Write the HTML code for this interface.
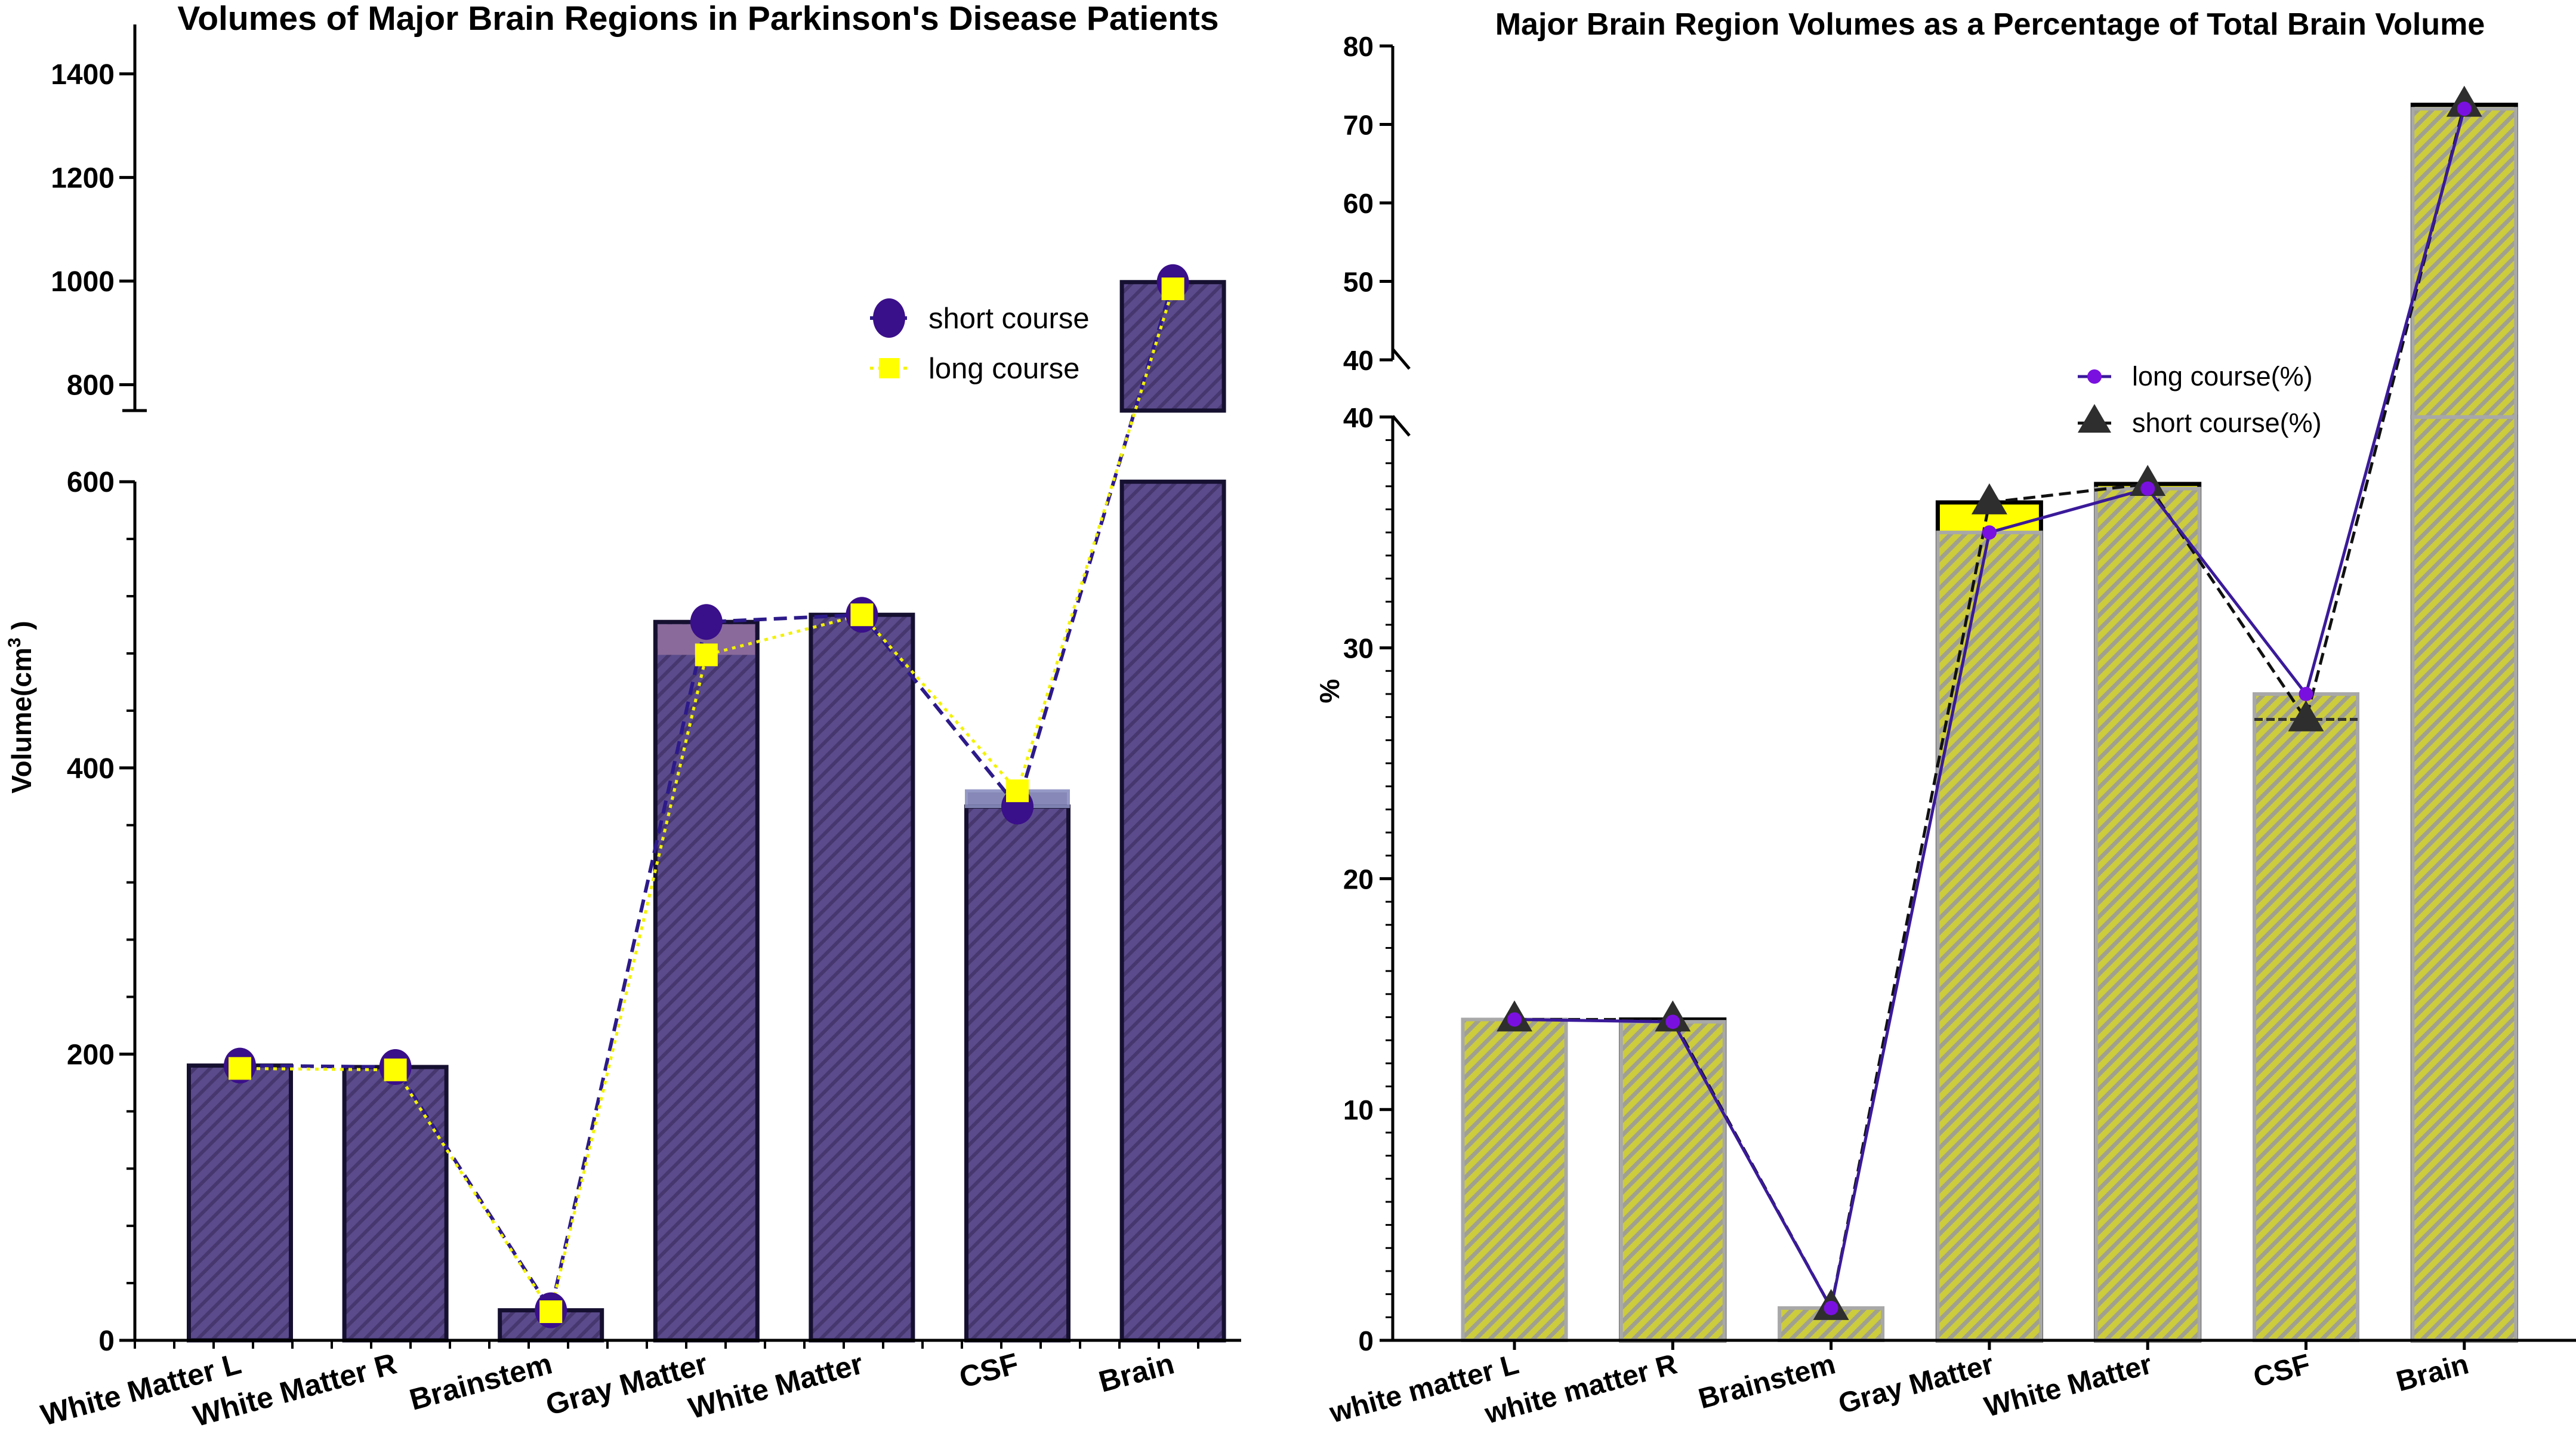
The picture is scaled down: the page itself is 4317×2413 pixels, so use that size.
<!DOCTYPE html>
<html><head><meta charset="utf-8"><style>
html,body{margin:0;padding:0;background:#fff}
svg{display:block;font-family:"Liberation Sans",Arial,sans-serif}
</style></head><body>
<svg id="chart" width="4317" height="2413" viewBox="0 0 4317 2413" xmlns="http://www.w3.org/2000/svg">
<defs>
<pattern id="hatchL" patternUnits="userSpaceOnUse" width="18" height="18" patternTransform="rotate(45)">
<rect width="18" height="18" fill="#5b4b8c"/><rect width="6" height="18" fill="#47376f"/>
</pattern>
<pattern id="hatchR" patternUnits="userSpaceOnUse" width="17" height="17" patternTransform="rotate(45)">
<rect width="17" height="17" fill="#cccc3c"/><rect width="7" height="17" fill="#a0a090"/>
</pattern>
</defs>
<g id="left"></g>
<g id="right"></g>
</svg>
<script>
const categoriesL = ["White Matter L","White Matter R","Brainstem","Gray Matter","White Matter","CSF","Brain"];
const shortCourseVol = [192, 191, 21, 502, 507, 373, 998];
const longCourseVol = [190, 189, 20, 479, 507, 384, 985];
const ticksLLow = [0, 200, 400, 600];
const ticksLHigh = [800, 1000, 1200, 1400];

const categoriesR = ["white matter L","white matter R","Brainstem","Gray Matter","White Matter","CSF","Brain"];
const longCoursePct = [13.9, 13.8, 1.4, 35.0, 36.9, 28.0, 72.0];
const shortCoursePct = [13.9, 13.9, 1.4, 36.3, 37.1, 26.9, 72.5];
const ticksRLow = [0, 10, 20, 30, 40];
const ticksRHigh = [40, 50, 60, 70, 80];

const NS = "http://www.w3.org/2000/svg";
function mk(parent, tag, attrs, text){
  const e = document.createElementNS(NS, tag);
  for (const k in attrs) e.setAttribute(k, attrs[k]);
  if (text !== undefined) e.textContent = text;
  parent.appendChild(e); return e;
}

// ---------- LEFT ----------
const L = document.getElementById('left');
const yL = v => v <= 600 ? 2246 - v * 2.398 : 688 - (v - 750) * 0.868;
const xL = i => 402 + i * 260.6;
const bwL = 171;
function barSeg(g, x, v, lowMax, highMin, y, fill, stroke, sw, name){
  const top = Math.min(v, lowMax);
  let r = mk(g, 'rect', {x: x - bwL/2, y: y(top), width: bwL, height: y(0) - y(top), fill: fill, stroke: stroke, 'stroke-width': sw});
  
  
  if (v > highMin) {
    let r2 = mk(g, 'rect', {x: x - bwL/2, y: y(v), width: bwL, height: y(highMin) - y(v), fill: fill, stroke: stroke, 'stroke-width': sw});
    
    
  }
}
categoriesL.forEach((c, i) => {
  barSeg(L, xL(i), shortCourseVol[i], 600, 750, yL, 'url(#hatchL)', '#161030', 7, 'bar-short-' + i);
  if (longCourseVol[i] > shortCourseVol[i]) {
    let r = mk(L, 'rect', {x: xL(i) - bwL/2, y: yL(longCourseVol[i]), width: bwL, height: yL(shortCourseVol[i]) - yL(longCourseVol[i]), fill: '#7b7cb0', stroke: '#8a8fc0', 'stroke-width': 5, opacity: 0.9});
    
    
  }
  if (longCourseVol[i] < shortCourseVol[i] && shortCourseVol[i] - longCourseVol[i] > 5 && shortCourseVol[i] <= 600) {
    let r = mk(L, 'rect', {x: xL(i) - bwL/2 + 4, y: yL(shortCourseVol[i]) + 4, width: bwL - 8, height: yL(longCourseVol[i]) - yL(shortCourseVol[i]) - 4, fill: '#8a6a9a'});
    
    
  }
});
let a = mk(L, 'line', {x1: 226, y1: 807, x2: 226, y2: 2246, stroke: '#000', 'stroke-width': 5});
 
a = mk(L, 'line', {x1: 226, y1: 41, x2: 226, y2: 688, stroke: '#000', 'stroke-width': 5});
 
mk(L, 'line', {x1: 205, y1: 688, x2: 246, y2: 688, stroke: '#000', 'stroke-width': 5});
a = mk(L, 'line', {x1: 226, y1: 2246, x2: 2080, y2: 2246, stroke: '#000', 'stroke-width': 5});
 
for (let v = 0; v <= 600; v += 40) mk(L, 'line', {x1: 212, y1: yL(v), x2: 226, y2: yL(v), stroke: '#000', 'stroke-width': 4});
for (let i = 0; i < 28; i++) { const x = 226 + i * 66; mk(L, 'line', {x1: x, y1: 2246, x2: x, y2: 2260, stroke: '#000', 'stroke-width': 4}); }
ticksLLow.concat(ticksLHigh).forEach(v => {
  mk(L, 'line', {x1: 200, y1: yL(v), x2: 226, y2: yL(v), stroke: '#000', 'stroke-width': 5});
  let t = mk(L, 'text', {x: 192, y: yL(v) + 17, 'text-anchor': 'end', 'font-size': 48, 'font-weight': 'bold'}, v);
   
});
categoriesL.forEach((c, i) => {
  let t = mk(L, 'text', {x: xL(i) + 5, y: 2300, 'text-anchor': 'end', 'font-size': 50, 'font-weight': 'bold', transform: `rotate(-15 ${xL(i) + 5} 2300)`}, c);
   
});
function poly(g, xs, vs, y, stroke, sw, dash, name){
  const p = vs.map((v, i) => xs(i) + ',' + y(v)).join(' ');
  const e = mk(g, 'polyline', {points: p, fill: 'none', stroke: stroke, 'stroke-width': sw, 'stroke-dasharray': dash});
   
}
poly(L, xL, shortCourseVol, yL, '#2d1a8a', 6, '22 12', 'line-short-course');
poly(L, xL, longCourseVol, yL, '#f2f200', 5, '6 8', 'line-long-course');
shortCourseVol.forEach((v, i) => {
  let c = mk(L, 'ellipse', {cx: xL(i), cy: yL(v), rx: 27, ry: 30, fill: '#3a0f8a'});
   
});
longCourseVol.forEach((v, i) => {
  let c = mk(L, 'rect', {x: xL(i) - 19, y: yL(v) - 19, width: 38, height: 38, fill: '#ffff00'});
   
});
let t = mk(L, 'text', {x: 1170, y: 50, 'text-anchor': 'middle', 'font-size': 57, 'font-weight': 'bold'}, "Volumes of Major Brain Regions in Parkinson's Disease Patients");
 
t = mk(L, 'text', {x: 52, y: 1185, 'text-anchor': 'middle', 'font-size': 46, 'font-weight': 'bold', transform: 'rotate(-90 52 1185)'}, 'Volume(cm');
 
mk(t, 'tspan', {'font-size': 30, dy: -18}, '3');
mk(t, 'tspan', {dy: 18}, ' )');
let lg = mk(L, 'g', {});
 
mk(lg, 'line', {x1: 1458, y1: 533, x2: 1520, y2: 533, stroke: '#2d1a8a', 'stroke-width': 6});
mk(lg, 'ellipse', {cx: 1490, cy: 533, rx: 27, ry: 33, fill: '#3a0f8a'});
mk(lg, 'text', {x: 1556, y: 550, 'font-size': 49}, 'short course');
mk(lg, 'line', {x1: 1458, y1: 617, x2: 1520, y2: 617, stroke: '#f2f200', 'stroke-width': 5, 'stroke-dasharray': '6 8'});
mk(lg, 'rect', {x: 1473, y: 600, width: 34, height: 34, fill: '#ffff00'});
mk(lg, 'text', {x: 1556, y: 634, 'font-size': 49}, 'long course');

// ---------- RIGHT ----------
const R = document.getElementById('right');
const yR = v => v <= 40 ? 2246 - v * 38.68 : 603 - (v - 40) * 13.15;
const xR = i => 2538 + i * 265.3;
const bwR = 173;
categoriesR.forEach((c, i) => {
  const s = shortCoursePct[i], l = longCoursePct[i];
  if (s > l) {
    const segs = s > 40 ? [[0, 40], [40, s]] : [[0, s]];
    segs.forEach(sg => {
      let r = mk(R, 'rect', {x: xR(i) - bwR/2, y: yR(sg[1]), width: bwR, height: yR(sg[0]) - yR(sg[1]), fill: '#ffff00', stroke: '#000', 'stroke-width': 7});
       
    });
  }
  const lsegs = l > 40 ? [[0, 40], [40, l]] : [[0, l]];
  lsegs.forEach(sg => {
    let r = mk(R, 'rect', {x: xR(i) - bwR/2, y: yR(sg[1]), width: bwR, height: yR(sg[0]) - yR(sg[1]), fill: 'url(#hatchR)', stroke: '#a8a8a8', 'stroke-width': 6});
     
  });
  if (s < l) {
    let r = mk(R, 'line', {x1: xR(i) - bwR/2, y1: yR(s), x2: xR(i) + bwR/2, y2: yR(s), stroke: '#333', 'stroke-width': 5, 'stroke-dasharray': '14 6'});
     
  }
});
a = mk(R, 'line', {x1: 2334, y1: 699, x2: 2334, y2: 2246, stroke: '#000', 'stroke-width': 5});
 
a = mk(R, 'line', {x1: 2334, y1: 77, x2: 2334, y2: 603, stroke: '#000', 'stroke-width': 5});
 
mk(R, 'line', {x1: 2334, y1: 585, x2: 2362, y2: 618, stroke: '#000', 'stroke-width': 5});
mk(R, 'line', {x1: 2334, y1: 697, x2: 2362, y2: 730, stroke: '#000', 'stroke-width': 5});
a = mk(R, 'line', {x1: 2334, y1: 2246, x2: 4317, y2: 2246, stroke: '#000', 'stroke-width': 5});
 
for (let v = 0; v <= 40; v += 1) mk(R, 'line', {x1: 2322, y1: yR(v), x2: 2334, y2: yR(v), stroke: '#000', 'stroke-width': 3});
ticksRLow.forEach(v => {
  mk(R, 'line', {x1: 2312, y1: yR(v), x2: 2334, y2: yR(v), stroke: '#000', 'stroke-width': 5});
  let tt = mk(R, 'text', {x: 2302, y: yR(v) + 17, 'text-anchor': 'end', 'font-size': 46, 'font-weight': 'bold'}, v);
   
});
ticksRHigh.forEach(v => {
  const yy = v === 40 ? 603 : yR(v);
  mk(R, 'line', {x1: 2312, y1: yy, x2: 2334, y2: yy, stroke: '#000', 'stroke-width': 5});
  let tt = mk(R, 'text', {x: 2302, y: yy + 17, 'text-anchor': 'end', 'font-size': 46, 'font-weight': 'bold'}, v);
   
});
categoriesR.forEach((c, i) => {
  mk(R, 'line', {x1: xR(i), y1: 2246, x2: xR(i), y2: 2262, stroke: '#000', 'stroke-width': 5});
  let tt = mk(R, 'text', {x: xR(i) + 10, y: 2300, 'text-anchor': 'end', 'font-size': 48, 'font-weight': 'bold', transform: `rotate(-15 ${xR(i) + 10} 2300)`}, c);
   
});
poly(R, xR, shortCoursePct, yR, '#111', 5, '20 10', 'line-short-course-pct');
poly(R, xR, longCoursePct, yR, '#3a1a9a', 5, 'none', 'line-long-course-pct');
shortCoursePct.forEach((v, i) => {
  const x = xR(i), y = yR(v);
  let p = mk(R, 'polygon', {points: `${x},${y-32} ${x-30},${y+20} ${x+30},${y+20}`, fill: '#2e2e2e'});
   
});
longCoursePct.forEach((v, i) => {
  let c = mk(R, 'circle', {cx: xR(i), cy: yR(v), r: 12, fill: '#7a10e0'});
   
});
t = mk(R, 'text', {x: 3335, y: 58, 'text-anchor': 'middle', 'font-size': 52, 'font-weight': 'bold'}, 'Major Brain Region Volumes as a Percentage of Total Brain Volume');
 
t = mk(R, 'text', {x: 2244, y: 1158, 'text-anchor': 'middle', 'font-size': 46, 'font-weight': 'bold', transform: 'rotate(-90 2244 1158)'}, '%');
 
lg = mk(R, 'g', {});
 
mk(lg, 'line', {x1: 3482, y1: 631, x2: 3538, y2: 631, stroke: '#3a1a9a', 'stroke-width': 5});
mk(lg, 'circle', {cx: 3510, cy: 631, r: 12, fill: '#7a10e0'});
mk(lg, 'text', {x: 3573, y: 646, 'font-size': 45}, 'long course(%)');
mk(lg, 'line', {x1: 3482, y1: 709, x2: 3538, y2: 709, stroke: '#111', 'stroke-width': 5, 'stroke-dasharray': '14 8'});
mk(lg, 'polygon', {points: '3510,677 3482,725 3538,725', fill: '#2e2e2e'});
mk(lg, 'text', {x: 3573, y: 724, 'font-size': 45}, 'short course(%)');
</script>
</body></html>
